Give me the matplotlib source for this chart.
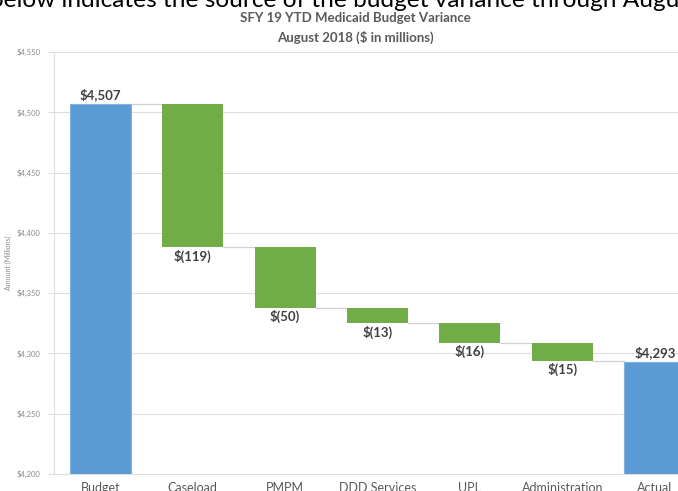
"""Waterfall chart: SFY 19 YTD Medicaid budget variance, August 2018."""

import matplotlib.pyplot as plt
import numpy as np

categories = ["Budget", "Caseload", "PMPM", "DDD Services", "UPL",
              "Administration", "Actual"]
budget = 4507
changes = [-119, -50, -13, -16, -15]
actual = 4293

yticks = [4200, 4250, 4300, 4350, 4400, 4450, 4500, 4550]

BLUE = "#5B9BD5"
GREEN = "#70AD47"
GRID = "#dedede"
TEXT = "#595959"

plt.rcParams["font.family"] = ["Lato", "DejaVu Sans"]

fig = plt.figure(figsize=(6.78, 4.91), dpi=100)
ax = fig.add_axes([54 / 678, 1 - 474 / 491, 647 / 678, 422 / 491])

x = np.arange(len(categories))
width = 0.66

# running totals for the floating bars
levels = budget + np.concatenate([[0], np.cumsum(changes)])
tops = levels[:-1]
bottoms = levels[1:]

ax.bar(x[0], budget - 4200, bottom=4200, width=width, color=BLUE,
       edgecolor="#7fb2df", linewidth=0.8, zorder=3)
ax.bar(x[1:-1], tops - bottoms, bottom=bottoms, width=width, color=GREEN,
       zorder=3)
ax.bar(x[-1], actual - 4200, bottom=4200, width=width, color=BLUE,
       edgecolor="#7fb2df", linewidth=0.8, zorder=3)

# connector lines between bars
for i, lv in enumerate(levels):
    ax.plot([x[i] + width / 2, x[i + 1] - width / 2], [lv, lv],
            color="#d0d0d0", lw=0.9, zorder=2)

# value labels
lbl = dict(fontsize=9.5, fontweight="bold", color="#404040")
ax.text(x[0], budget + 2, f"${budget:,}", ha="center", va="bottom", **lbl)
for i, c in enumerate(changes):
    ax.text(x[i + 1], bottoms[i] - 2, f"$({-c})", ha="center", va="top", **lbl)
ax.text(x[-1], actual + 2, f"${actual:,}", ha="center", va="bottom", **lbl)

ax.set_xlim(-0.5, len(categories) - 0.5)
ax.set_ylim(4200, 4550)
ax.set_yticks(yticks)
ax.set_yticklabels([f"${v:,}" for v in yticks], fontsize=5.5, color="#8a8a8a")
ax.set_xticks(x)
ax.set_xticklabels(categories, fontsize=9, color=TEXT)
ax.tick_params(axis="x", length=0, pad=6)
ax.tick_params(axis="y", length=4, color=GRID, pad=6)
ax.grid(axis="y", color=GRID, lw=0.8, zorder=0)
ax.set_axisbelow(True)
for side in ("top", "right"):
    ax.spines[side].set_visible(False)
for side in ("left", "bottom"):
    ax.spines[side].set_color(GRID)
    ax.spines[side].set_linewidth(0.8)
ax.set_ylabel("Amount (Millions)", fontsize=5, color="#8a8a8a", labelpad=3)

fig.text(355 / 678, 1 - 18 / 491, "SFY 19 YTD Medicaid Budget Variance",
         ha="center", va="center", fontsize=9.5, fontweight="bold", color=TEXT)
fig.text(355 / 678, 1 - 37 / 491, "August 2018 ($ in millions)",
         ha="center", va="center", fontsize=9.5, fontweight="bold", color=TEXT)

# cropped line of surrounding document text
fig.text(-10 / 678, 1 - 7 / 491,
         "below indicates the source of the budget variance through August",
         ha="left", va="baseline", fontsize=17.6, color="black")

fig.savefig("out.png", dpi=100)
plt.close(fig)
